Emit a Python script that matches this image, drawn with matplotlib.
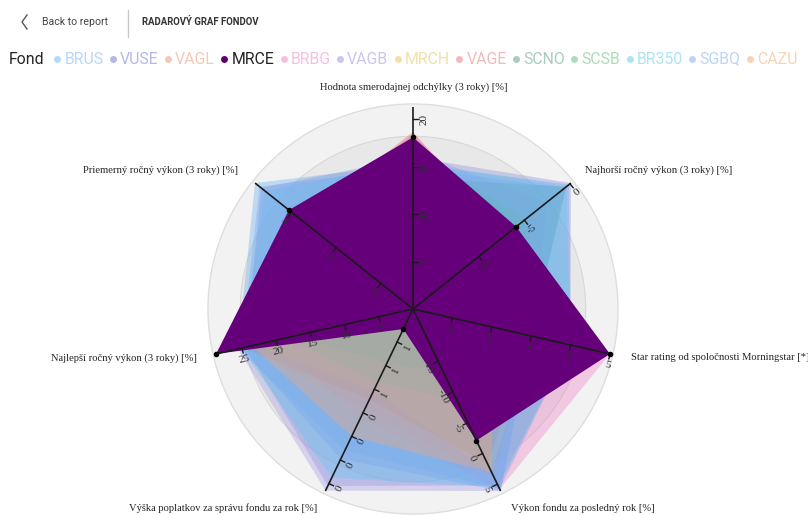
import numpy as np
import matplotlib
matplotlib.use('Agg')
import matplotlib.pyplot as plt
from matplotlib.lines import Line2D
from matplotlib.patches import Circle

# ---------------- data ----------------
axis_titles = [
    "Hodnota smerodajnej odchýlky (3 roky) [%]",
    "Najhorší ročný výkon (3 roky) [%]",
    "Star rating od spoločnosti Morningstar [*]",
    "Výkon fondu za posledný rok [%]",
    "Výška poplatkov za správu fondu za rok [%]",
    "Najlepší ročný výkon (3 roky) [%]",
    "Priemerný ročný výkon (3 roky) [%]",
]
funds = ['BRUS', 'VUSE', 'VAGL', 'MRCE', 'BRBG', 'VAGB', 'MRCH',
         'VAGE', 'SCNO', 'SCSB', 'BR350', 'SGBQ', 'CAZU']
selected = 'MRCE'

#            BRUS  VUSE  VAGL  MRCE  BRBG  VAGB  MRCH  VAGE  SCNO  SCSB  BR350 SGBQ  CAZU
std_dev   = [15.3, 16.0, 18.3, 18.1, 18.5, 16.6, 17.9, 18.7, 13.8, 17.0, 15.5, 14.9, 18.1]
worst     = [-0.1, 0.1, -6.8, -5.9, -6.5, -2.5, -6.8, -7.2, -0.4, -4.9, -0.4, -0.6, -7.7]
stars     = [4, 4, 3, 5, 5, 3, 3, 3, 3, 3, 4, 3, 2]
last_year = [5.8, 5.2, 4.0, -2.1, 5.8, 6.1, 3.1, 1.7, -13.1, -8.7, 5.5, 6.1, 3.1]
fees      = [0.48, 0.18, 0.83, 1.51, 0.75, 0.14, 0.99, 0.91, 1.22, 1.06, 0.25, 0.41, 0.60]
best      = [25.6, 24.5, 24.5, 28.8, 20.2, 25.6, 23.0, 24.8, 17.3, 18.7, 25.1, 25.1, 23.6]
avg       = [9.1, 8.4, 4.1, 5.3, 3.8, 5.6, 3.4, 3.8, 2.0, 1.1, 8.0, 8.6, 2.9]

series = [std_dev, worst, stars, last_year, fees, best, avg]

# value at centre / value at rim of every axis (independent scales)
axis_lo = [0.0, -17.2, 0.0, -23.5, 1.68, 0.0, -8.6]
axis_hi = [21.3, 0.1, 5.0, 6.1, 0.137, 28.8, 9.1]
axis_ticks = [[5, 10, 15, 20], [-10, -5, 0], [1, 2, 3, 4, 5],
              [-15, -10, -5, 0, 5], [1.4, 1.2, 1.0, 0.8, 0.6, 0.4, 0.2],
              [5, 10, 15, 20, 25], [-5, 0, 5]]
axis_tick_labels = [[str(int(v)) for v in t] for t in axis_ticks]

fill_colors = ['#62aef0', '#8890dc', '#f09a78', '#66007a', '#ee80c4', '#a298e4',
               '#f0c860', '#e06c6c', '#4f9a88', '#5cba70', '#5ccaf0', '#78a8f0', '#f5a870']
legend_colors = ['#b7d8f6', '#b3b9e6', '#f5c8b3', '#5e006e', '#f5c0de', '#cbc5ef',
                 '#f3e0a8', '#f0baba', '#a9cbc2', '#addcb8', '#ade3f3', '#bcd5f6', '#f8d3b8']

# ---------------- figure ----------------
W, H = 808, 515
CX, CY, R = 413, 309, 202
fig = plt.figure(figsize=(W / 100, H / 100), dpi=100)
fig.patch.set_facecolor('white')
ax = fig.add_axes([0, 0, 1, 1])
ax.set_xlim(-CX / R, (W - CX) / R)
ax.set_ylim(-(H - CY) / R, CY / R)
ax.axis('off')

def px(x, y):
    return x / W, 1 - y / H

n = len(axis_titles)
theta = 2 * np.pi * np.arange(n) / n

def norm(i, v):
    return (v - axis_lo[i]) / (axis_hi[i] - axis_lo[i])

# background rings
ax.add_patch(Circle((0, 0), 1.015, fc='#f2f2f2', ec='#dedede', lw=1.0, zorder=0))
ax.add_patch(Circle((0, 0), 0.855, fc='#e8e8e8', ec='#d8d8d8', lw=0.8, zorder=0.5))

# fund polygons
for k, f in enumerate(funds):
    r = np.array([norm(i, series[i][k]) for i in range(n)])
    xs = r * np.sin(theta)
    ys = r * np.cos(theta)
    if f == selected:
        ax.fill(xs, ys, color=fill_colors[k], alpha=1.0, lw=0, zorder=3)
        ax.scatter(xs, ys, s=9, color='black', zorder=6)
    else:
        ax.fill(xs, ys, color=fill_colors[k], alpha=0.36, lw=0, zorder=2)

# axes, ticks, tick labels
for i in range(n):
    ux, uy = np.sin(theta[i]), np.cos(theta[i])
    ax.plot([0, ux], [0, uy], color='#1a1a1a', lw=1.2, zorder=4, solid_capstyle='butt')
    phi = np.degrees(np.arctan2(uy, ux))
    rot = phi if -90.5 <= phi <= 90.5 else (phi + 180 if phi < 0 else phi - 180)
    bx, by = np.sin(np.radians(rot)), -np.cos(np.radians(rot))
    for v, lab in zip(axis_ticks[i], axis_tick_labels[i]):
        r = norm(i, v)
        x0, y0 = r * ux, r * uy
        ax.plot([x0, x0 + bx * 5 / R], [y0, y0 + by * 5 / R], color='#1a1a1a', lw=1.0, zorder=4)
        ax.text(x0 + bx * 11.5 / R, y0 + by * 11.5 / R, lab, rotation=rot, rotation_mode='anchor',
                ha='center', va='center', fontsize=8.0, family='Liberation Serif',
                color='#2a2a2a', zorder=5)

# axis titles
title_pos = [(414, 87, 'center'), (585, 170, 'left'), (631, 358, 'left'),
             (511, 508, 'left'), (317, 508, 'right'), (197, 358, 'right'),
             (238, 170, 'right')]
for t, (x, y, ha) in zip(axis_titles, title_pos):
    fig.text(*px(x, y), t, ha=ha, va='center', fontsize=7.6,
             family='Liberation Serif', color='#222222')

# header
fig.add_artist(Line2D([27 / W, 22 / W, 27 / W], [1 - 15 / H, 1 - 22 / H, 1 - 29 / H],
                      color='#555555', lw=1.0))
fig.text(*px(42, 22), 'Back to report', ha='left', va='center', fontsize=7.6,
         family='Roboto', color='#444444')
fig.add_artist(Line2D([128 / W, 128 / W], [1 - 10 / H, 1 - 37 / H], color='#c8c8c8', lw=1.0))
fig.text(*px(142, 22), 'RADAROVÝ GRAF FONDOV', ha='left', va='center', fontsize=6.9,
         family='Roboto', weight='bold', color='#333333')

# legend
renderer = fig.canvas.get_renderer()
fig.text(*px(9, 59), 'Fond', ha='left', va='center', fontsize=11.4,
         family='Roboto', color='#252423')
x = 57.3
for k, f in enumerate(funds):
    fig.add_artist(Line2D([x / W], [1 - 59 / H], marker='o', ms=5.0, mew=0,
                          color=legend_colors[k], ls='none'))
    t = fig.text(*px(x + 7, 59), f, ha='left', va='center', fontsize=11.4, family='Roboto',
                 color='#252423' if f == selected else legend_colors[k])
    bb = t.get_window_extent(renderer=renderer)
    x = bb.x1 + 9.5

fig.savefig('out.png', dpi=100)
